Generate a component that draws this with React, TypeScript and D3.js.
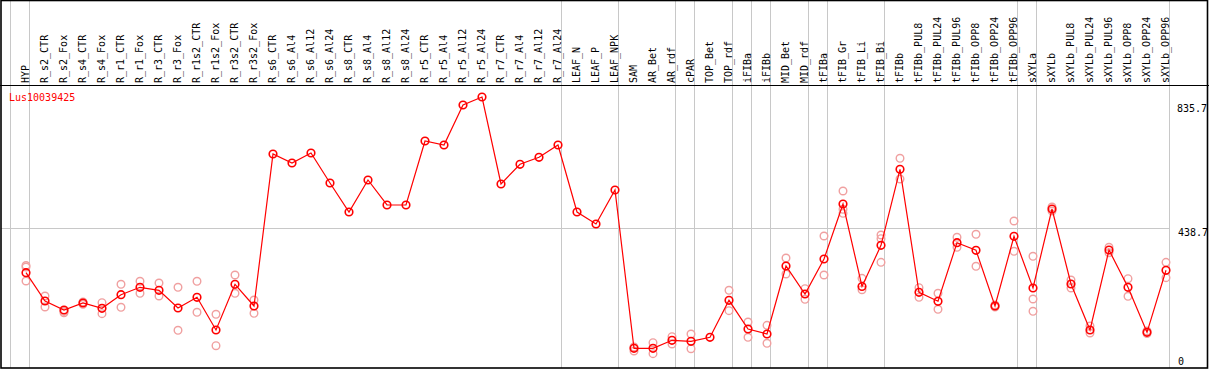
import * as d3 from "d3";
import { useEffect, useRef } from "react";

// sample names, left to right
const samples = [
  "HYP", "R_s2_CTR", "R_s2_Fox", "R_s4_CTR", "R_s4_Fox", "R_r1_CTR", "R_r1_Fox",
  "R_r3_CTR", "R_r3_Fox", "R_r1s2_CTR", "R_r1s2_Fox", "R_r3s2_CTR", "R_r3s2_Fox",
  "R_s6_CTR", "R_s6_Al4", "R_s6_Al12", "R_s6_Al24", "R_s8_CTR", "R_s8_Al4",
  "R_s8_Al12", "R_s8_Al24", "R_r5_CTR", "R_r5_Al4", "R_r5_Al12", "R_r5_Al24",
  "R_r7_CTR", "R_r7_Al4", "R_r7_Al12", "R_r7_Al24", "LEAF_N", "LEAF_P", "LEAF_NPK",
  "SAM", "AR_Bet", "AR_rdf", "cPAR", "TOP_Bet", "TOP_rdf", "iFIBa", "iFIBb",
  "MID_Bet", "MID_rdf", "tFIBa", "tFIB_Gr", "tFIB_Li", "tFIB_Bi", "tFIBb",
  "tFIBb_PUL8", "tFIBb_PUL24", "tFIBb_PUL96", "tFIBb_OPP8", "tFIBb_OPP24",
  "tFIBb_OPP96", "sXYLa", "sXYLb", "sXYLb_PUL8", "sXYLb_PUL24", "sXYLb_PUL96",
  "sXYLb_OPP8", "sXYLb_OPP24", "sXYLb_OPP96",
];

// mean expression per sample
const means = [
  303.3, 217.6, 190.3, 211.5, 195.4, 236.7, 259.1, 250.0, 196.4, 228.8, 129.7, 268.2, 202.4,
  663.0, 635.7, 666.0, 575.1, 487.2, 584.2, 508.5, 508.5, 702.4, 690.3, 811.5, 835.7,
  572.1, 631.8, 653.0, 690.3, 487.2, 450.9, 553.9,
  74.2, 74.2, 98.5, 95.4, 107.6, 219.7, 132.7, 117.6, 323.6, 238.8, 344.8, 511.5, 261.5,
  386.3, 616.6, 243.9, 216.7, 394.2, 371.2, 202.4, 413.6, 257.0, 496.3, 269.1, 129.7,
  372.1, 259.1, 122.7, 310.6,
];

// individual replicates (empty = single value)
const replicates = [
  [325.1, 320.6, 278.2], [232.7, 199.4], [186.1, 182.1], [214.5, 207.6], [212.4, 179.1],
  [268.2, 198.5], [277.3, 240.9], [272.1, 232.7], [259.1, 128.8], [277.3, 183.3],
  [177.3, 82.1], [296.3, 240.9], [220.6, 180.3],
  [], [], [], [], [], [], [], [], [], [], [], [], [], [], [], [], [], [], [],
  [66.1, 78.2], [91.2, 57.9], [109.4, 87.3], [117.6, 73.0], [], [250.0, 188.2],
  [153.9, 107.6], [143.9, 89.4], [347.9, 299.4], [254.8, 222.7], [414.5, 296.3],
  [550.9, 483.1, 495.4], [286.3, 251.8], [417.5, 406.3, 334.8], [650.0, 587.2],
  [257.9, 228.8], [240.9, 192.4], [410.6, 380.3], [419.7, 322.7], [199.4, 205.4],
  [460.0, 368.2], [353.0, 223.6, 186.4], [502.4, 490.3], [281.2, 257.0], [141.8, 120.6],
  [380.3, 363.9], [285.1, 231.8], [126.7, 119.1], [334.8, 288.2],
];

// columns after which a grey separator is drawn
const groupEnds = ["HYP", "R_r7_Al24", "LEAF_NPK", "AR_rdf", "cPAR", "TOP_rdf", "iFIBa",
  "iFIBb", "MID_rdf", "tFIBa", "tFIB_Bi", "tFIBb_OPP96", "sXYLa", "sXYLb_OPP96"];

const gene = "Lus10039425";
const yMax = 835.7;
const yMid = 438.7;

const W = 1209;
const H = 370;
const FONT = "'DejaVu Sans Mono', monospace";

export const ExpressionPlot = () => {
  const svgRef = useRef(null);

  useEffect(() => {
    const svg = d3.select(svgRef.current);
    svg.selectAll("*").remove();

    //X: one band per sample
    const x = d3.scaleBand().domain(samples).range([11, 11 + 19 * samples.length]);
    const cx = (s) => x(s) + 15;
    //Y
    const y = d3.scaleLinear().domain([0, yMax]).range([372.8, 97]);

    svg.append("rect").attr("width", W).attr("height", H).attr("fill", "white");

    //vertical grey separators
    svg.append("line")
      .attr("x1", x(samples[0]) - 0.5).attr("x2", x(samples[0]) - 0.5)
      .attr("y1", 0).attr("y2", 368)
      .attr("stroke", "#c8c8c8");
    svg.selectAll(".sep").data(groupEnds).enter().append("line")
      .attr("x1", (d) => x(d) + x.bandwidth() - 0.5)
      .attr("x2", (d) => x(d) + x.bandwidth() - 0.5)
      .attr("y1", 0).attr("y2", 368)
      .attr("stroke", "#c8c8c8");

    //horizontal grid at mid value
    svg.append("line")
      .attr("x1", 1).attr("x2", 1170)
      .attr("y1", Math.round(y(yMid)) + 0.5).attr("y2", Math.round(y(yMid)) + 0.5)
      .attr("stroke", "#c8c8c8");

    //header separator + frame
    svg.append("line").attr("x1", 0).attr("x2", W).attr("y1", 85.5).attr("y2", 85.5)
      .attr("stroke", "black").attr("stroke-width", 1.2);
    svg.append("rect").attr("x", 1).attr("y", 0.5).attr("width", 1206.5).attr("height", 367.5)
      .attr("fill", "none").attr("stroke", "black").attr("stroke-width", 1.6);

    //column labels
    svg.selectAll(".lab").data(samples).enter().append("text")
      .attr("transform", (d) => `translate(${x(d) + x.bandwidth() - 1.5},83) rotate(-90)`)
      .attr("font-family", FONT).attr("font-size", 10).attr("fill", "black")
      .text((d) => d);

    //y labels
    svg.append("text").attr("x", 1207).attr("y", y(yMax) + 15).attr("text-anchor", "end")
      .attr("font-family", FONT).attr("font-size", 10).text(yMax.toFixed(1));
    svg.append("text").attr("x", 1178).attr("y", y(yMid) + 8)
      .attr("font-family", FONT).attr("font-size", 10).text(yMid.toFixed(1));
    svg.append("text").attr("x", 1178).attr("y", y(0) - 8)
      .attr("font-family", FONT).attr("font-size", 10).text("0");

    //gene id
    svg.append("text").attr("x", 9).attr("y", 101)
      .attr("font-family", FONT).attr("font-size", 10).attr("fill", "red").text(gene);

    //replicates
    const reps = samples.flatMap((s, i) => replicates[i].map((v) => ({ s, v })));
    svg.selectAll(".rep").data(reps).enter().append("circle")
      .attr("cx", (d) => cx(d.s)).attr("cy", (d) => y(d.v)).attr("r", 3.8)
      .attr("fill", "none").attr("stroke", "#f0a0a0").attr("stroke-width", 1.4);

    //mean line
    const line = d3.line().x((d, i) => cx(samples[i])).y((d) => y(d));
    svg.append("path").datum(means).attr("d", line)
      .attr("fill", "none").attr("stroke", "red").attr("stroke-width", 1.2);

    svg.selectAll(".mean").data(means).enter().append("circle")
      .attr("cx", (d, i) => cx(samples[i])).attr("cy", (d) => y(d)).attr("r", 3.8)
      .attr("fill", "none").attr("stroke", "red").attr("stroke-width", 1.6);
  }, []);

  return <svg ref={svgRef} width={W} height={H} style={{ position: "absolute", left: 0, top: 0 }} />;
};

export default function App() {
  return <ExpressionPlot />;
}
